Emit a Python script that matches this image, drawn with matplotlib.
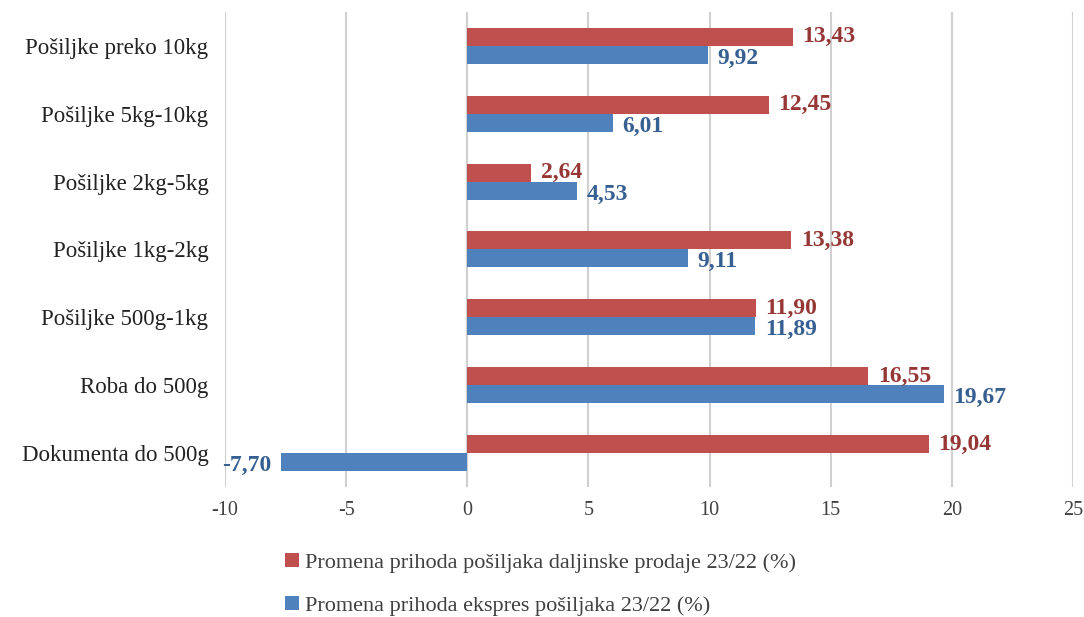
import matplotlib.pyplot as plt
import numpy as np

kategorije = ['Pošiljke preko 10kg', 'Pošiljke 5kg-10kg', 'Pošiljke 2kg-5kg',
              'Pošiljke 1kg-2kg', 'Pošiljke 500g-1kg', 'Roba do 500g',
              'Dokumenta do 500g']
daljinska = [13.43, 12.45, 2.64, 13.38, 11.90, 16.55, 19.04]
ekspres = [9.92, 6.01, 4.53, 9.11, 11.89, 19.67, -7.70]
naziv_daljinska = 'Promena prihoda pošiljaka daljinske prodaje 23/22 (%)'
naziv_ekspres = 'Promena prihoda ekspres pošiljaka 23/22 (%)'

plt.rcParams['font.family'] = ['Liberation Serif', 'DejaVu Serif']
plt.rcParams['axes.unicode_minus'] = False

crvena = '#C0504D'
plava = '#4F81BD'
crvena_tekst = '#953735'
plava_tekst = '#376092'

fig = plt.figure(figsize=(10.84, 6.17), dpi=100)
ax = fig.add_axes([0.2076, 0.2107, 0.7822, 0.77])

y = np.arange(len(kategorije))
h = 0.265
b1 = ax.barh(y - h / 2, daljinska, height=h, color=crvena, label=naziv_daljinska, zorder=3)
b2 = ax.barh(y + h / 2, ekspres, height=h, color=plava, label=naziv_ekspres, zorder=3)

def fmt(v):
    return f'{v:.2f}'.replace('.', ',')

for v, yy in zip(daljinska, y - h / 2):
    ax.text(v + 0.4 if v >= 0 else v - 0.4, yy, fmt(v), color=crvena_tekst,
            fontsize=17, fontweight='bold', va='center',
            ha='left' if v >= 0 else 'right')
for v, yy in zip(ekspres, y + h / 2):
    ax.text(v + 0.4 if v >= 0 else v - 0.4, yy + 0.05, fmt(v), color=plava_tekst,
            fontsize=17, fontweight='bold', va='center',
            ha='left' if v >= 0 else 'right')

ax.set_xlim(-10, 25)
ax.set_ylim(len(kategorije) - 0.5, -0.5)
ax.set_xticks(range(-10, 30, 5))
ax.set_yticks(y)
ax.set_yticklabels(kategorije, fontsize=16.5)
ax.tick_params(axis='x', labelsize=14.5, colors='#404040', length=0, pad=10)
ax.tick_params(axis='y', length=0, pad=12, labelcolor='#222222')
ax.grid(axis='x', color='#d0d0d0', linewidth=1.5, zorder=0)
for s in ax.spines.values():
    s.set_visible(False)
ax.axvline(0, color='#d0d0d0', linewidth=1.5, zorder=1)

fig.legend(handles=[b1, b2], loc='upper left', bbox_to_anchor=(0.255, 0.118),
           frameon=False, fontsize=16, handlelength=0.6, handleheight=0.6,
           handletextpad=0.3, labelspacing=1.05, borderaxespad=0)
for t in fig.legends[0].get_texts():
    t.set_color('#404040')

fig.savefig('out.png', dpi=100)
